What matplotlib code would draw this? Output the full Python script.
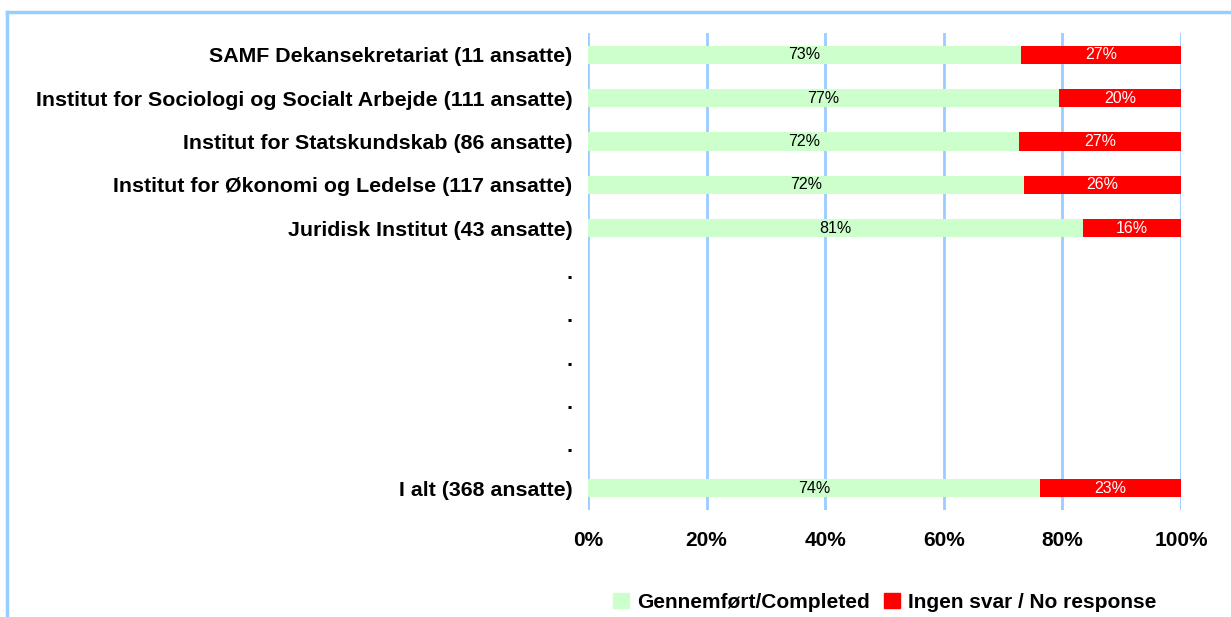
import matplotlib
matplotlib.use("Agg")
import matplotlib.pyplot as plt
from matplotlib.lines import Line2D
import numpy as np

plt.rcParams['font.family'] = ['Liberation Sans', 'DejaVu Sans']

labels = ["SAMF Dekansekretariat (11 ansatte)",
          "Institut for Sociologi og Socialt Arbejde (111 ansatte)",
          "Institut for Statskundskab (86 ansatte)",
          "Institut for Økonomi og Ledelse (117 ansatte)",
          "Juridisk Institut (43 ansatte)",
          ".", ".", ".", ".", ".",
          "I alt (368 ansatte)"]
completed = [73, 77, 72, 72, 81, None, None, None, None, None, 74]
no_response = [27, 20, 27, 26, 16, None, None, None, None, None, 23]
xticks = [0, 20, 40, 60, 80, 100]

green = "#CCFFCC"
red = "#FF0000"
gridc = "#99CCFF"

fig = plt.figure(figsize=(12.31, 6.17), dpi=100)
ax = fig.add_axes([588/1231, 1-510/617, (1181-588)/1231, (510-33)/617])

rows = np.arange(len(labels))
idx = [i for i in rows if completed[i] is not None]
c = np.array([completed[i] for i in idx], dtype=float)
r = np.array([no_response[i] for i in idx], dtype=float)
tot = c + r
cw = c / tot * 100
rw = r / tot * 100

ax.barh(idx, cw, height=0.42, color=green, zorder=3)
ax.barh(idx, rw, left=cw, height=0.42, color=red, zorder=3)
for k, i in enumerate(idx):
    ax.text(cw[k] / 2, i, "%d%%" % c[k], ha="center", va="center",
            fontsize=11.5, color="black", zorder=4)
    ax.text(cw[k] + rw[k] / 2, i, "%d%%" % r[k], ha="center", va="center",
            fontsize=11.5, color="white", zorder=4)

ax.set_xlim(0, 100)
ax.set_ylim(len(labels) - 0.5, -0.5)
ax.set_yticks(rows)
ax.set_yticklabels(labels, fontsize=15.4, fontweight="bold")
ax.set_xticks(xticks)
ax.set_xticklabels(["%d%%" % t for t in xticks], fontsize=15, fontweight="bold")
ax.tick_params(axis="y", length=0, pad=11)
ax.tick_params(axis="x", length=0, pad=15)
for s in ax.spines.values():
    s.set_visible(False)
ax.xaxis.grid(True, color=gridc, linewidth=2, zorder=0)
ax.set_axisbelow(True)

handles = [plt.Rectangle((0, 0), 1, 1, color=green),
           plt.Rectangle((0, 0), 1, 1, color=red)]
fig.legend(handles, ["Gennemført/Completed", "Ingen svar / No response"],
           loc="center", bbox_to_anchor=(885/1231, 1-602/617), ncol=2,
           frameon=False, handlelength=0.75, handleheight=0.75,
           handletextpad=0.4, columnspacing=0.7,
           prop={"size": 15, "weight": "bold"})

fig.add_artist(Line2D([7/1231, 1.0], [1-12/617, 1-12/617], color=gridc, linewidth=2.5,
                      transform=fig.transFigure))
fig.add_artist(Line2D([7/1231, 7/1231], [1-12/617, 0.0], color=gridc, linewidth=2.5,
                      transform=fig.transFigure))

fig.savefig("out.png", dpi=100)
